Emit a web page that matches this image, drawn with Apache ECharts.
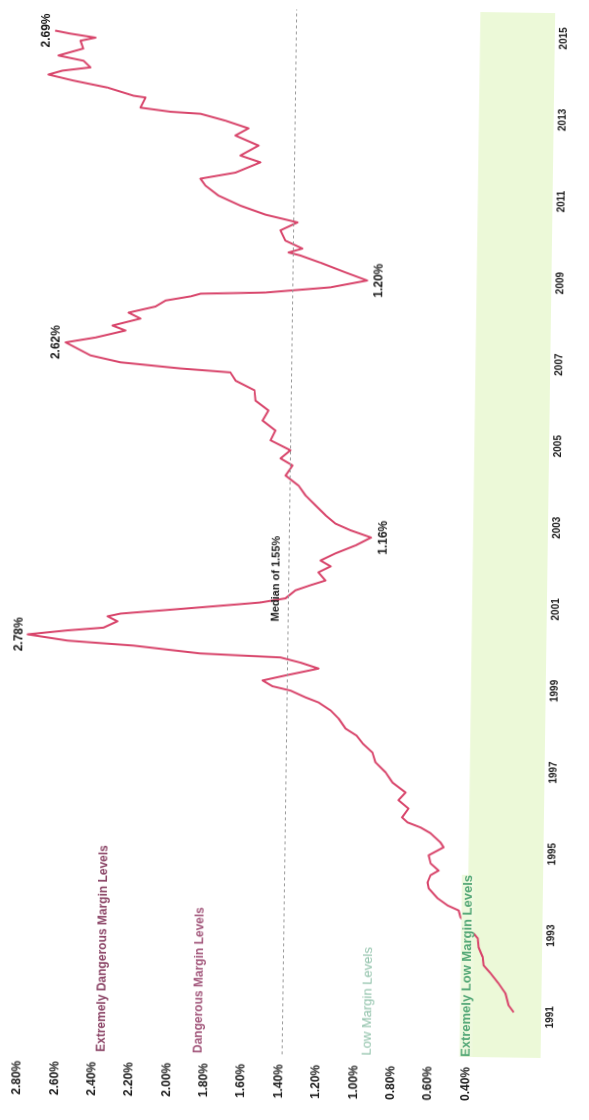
<!DOCTYPE html>
<html>
<head>
<meta charset="utf-8">
<script src="https://cdn.jsdelivr.net/npm/echarts@6/dist/echarts.min.js"></script>
<style>
  html, body { margin: 0; padding: 0; width: 589px; height: 1120px; overflow: hidden; background: #fff; }
  /* chart is drawn landscape, then turned to read bottom-to-top like the scan */
  #chart {
    position: absolute; width: 1120px; height: 589px;
    left: -265.5px; top: 265.5px;
    transform: rotate(-89.2deg); transform-origin: 50% 50%;
  }
</style>
</head>
<body>
<div id="chart"></div>
<script>
// margin debt series (year, percent)
const years = [
  1991.11, 1991.28, 1991.57, 1991.81, 1992.06, 1992.25, 1992.45, 1992.69, 1992.91,
  1993.42, 1993.59, 1993.71, 1993.88, 1994.12, 1994.27, 1994.44, 1994.56, 1994.73, 1994.93,
  1995.13, 1995.25, 1995.47, 1995.61, 1995.73, 1995.85,
  1996.07, 1996.27, 1996.46, 1996.70, 1996.95, 1997.19, 1997.43, 1997.65, 1997.84,
  1998.01, 1998.25, 1998.45, 1998.64, 1998.76, 1998.92, 1999.02, 1999.16, 1999.29, 1999.47,
  1999.61, 1999.73, 1999.80, 1999.97, 2000.07, 2000.21, 2000.32, 2000.40, 2000.56, 2000.68,
  2000.75, 2000.93, 2001.07, 2001.18, 2001.38, 2001.51, 2001.63, 2001.83, 2001.98, 2002.12,
  2002.30, 2002.50, 2002.70, 2002.87, 2003.03, 2003.23, 2003.47, 2003.71, 2003.95, 2004.19,
  2004.44, 2004.61, 2004.81, 2005.05, 2005.29, 2005.53, 2005.78, 2006.02, 2006.27, 2006.50,
  2006.70, 2006.78, 2006.91, 2007.07, 2007.38, 2007.51, 2007.69, 2007.81, 2007.99, 2008.13,
  2008.29, 2008.44, 2008.55, 2008.62, 2008.67, 2008.82, 2009.00, 2009.19, 2009.42, 2009.59,
  2009.66, 2009.76, 2009.95, 2010.20, 2010.40, 2010.58, 2010.79, 2011.03, 2011.27, 2011.44,
  2011.60, 2011.86, 2012.02, 2012.27, 2012.51, 2012.69, 2012.87, 2013.03, 2013.07, 2013.16,
  2013.41, 2013.45, 2013.64, 2013.80, 2013.94, 2014.04, 2014.13, 2014.29, 2014.41, 2014.59,
  2014.78, 2014.86, 2014.95, 2015.02
];
const margin = [
  0.46, 0.485, 0.50, 0.533, 0.572, 0.605, 0.61, 0.63, 0.635,
  0.717, 0.727, 0.78, 0.827, 0.87, 0.875, 0.862, 0.824, 0.862, 0.872,
  0.802, 0.817, 0.864, 0.912, 0.974, 1.0,
  0.97, 1.018, 0.985, 1.047, 1.081, 1.129, 1.144, 1.191, 1.22,
  1.273, 1.306, 1.345, 1.402, 1.464, 1.535, 1.62, 1.668, 1.56, 1.404,
  1.49, 1.585, 1.963, 2.28, 2.592, 2.78, 2.593, 2.422, 2.357, 2.404,
  2.343, 1.966, 1.683, 1.565, 1.518, 1.448, 1.377, 1.411, 1.354, 1.402,
  1.332, 1.238, 1.165, 1.262, 1.334, 1.381, 1.429, 1.477, 1.511, 1.573,
  1.54, 1.598, 1.551, 1.646, 1.623, 1.685, 1.658, 1.72, 1.725, 1.815,
  1.84, 2.076, 2.36, 2.502, 2.62, 2.479, 2.338, 2.40, 2.268, 2.325,
  2.198, 2.151, 2.033, 1.986, 1.68, 1.373, 1.20, 1.303, 1.422, 1.517,
  1.573, 1.508, 1.589, 1.613, 1.533, 1.685, 1.803, 1.908, 1.97, 1.994,
  1.829, 1.712, 1.807, 1.722, 1.832, 1.771, 1.88, 1.998, 2.14, 2.282,
  2.259, 2.316, 2.439, 2.60, 2.719, 2.653, 2.521, 2.554, 2.673, 2.556,
  2.57, 2.499, 2.618, 2.69
];

const yearTicks = [1991, 1993, 1995, 1997, 1999, 2001, 2003, 2005, 2007, 2009, 2011, 2013, 2015];

// annotated turning points
const noteYears = [2002.70, 2007.38, 2009.00, 2015.02, 2000.21];
const noteTexts = ['1.16%', '2.62%', '1.20%', '2.69%', '2.78%'];
const noteAbove = [false, true, false, true, true];

const median = 1.55;
const medianText = 'Median of 1.55%';
const medianTextYear = 2001.66;

// zone captions, placed against the printed percent scale
const levelNames = ['Extremely Dangerous Margin Levels', 'Dangerous Margin Levels', 'Low Margin Levels', 'Extremely Low Margin Levels'];
const levelAt = [2.35, 1.83, 0.93, 0.40];
const lowBand = [0, 0.4];

const font = 'Arial';
const levelStyles = [
  { color: '#8b4466', fontWeight: 'bold', fontSize: 12 },
  { color: '#a3587c', fontWeight: 'bold', fontSize: 12 },
  { color: '#8fc1a9', fontWeight: 'normal', fontSize: 13 },
  { color: '#55a877', fontWeight: 'bold', fontSize: 13, backgroundColor: '#eef9de' }
];

const chart = echarts.init(document.getElementById('chart'), null, { renderer: 'canvas' });

chart.setOption({
  animation: false,
  backgroundColor: '#fff',
  grid: { left: 66, right: 9, top: 24, bottom: 42 },
  xAxis: {
    type: 'value',
    min: 1990,
    max: 2015.62,
    axisLine: { show: false },
    axisTick: { show: false },
    splitLine: { show: false },
    axisLabel: {
      customValues: yearTicks,
      formatter: v => String(Math.round(v)),
      margin: 4,
      fontSize: 10,
      fontWeight: 'bold',
      color: '#1a1a1a',
      fontFamily: font
    }
  },
  yAxis: [
    {
      type: 'value',
      min: 0,
      max: 2.8,
      interval: 0.2,
      axisLine: { show: false },
      axisTick: { show: false },
      splitLine: { show: false },
      axisLabel: {
        margin: 10,
        fontSize: 12,
        fontWeight: 'bold',
        color: '#1a1a1a',
        fontFamily: font,
        formatter: v => (v < 0.39 ? '' : v.toFixed(2) + '%')
      }
    },
    // the line itself sits on its own (hidden) scale, as in the original
    { type: 'value', min: 0.33, max: 2.8, show: false, splitLine: { show: false } }
  ],
  series: [
    {
      type: 'line',
      yAxisIndex: 0,
      data: [],
      z: 1,
      silent: true,
      markArea: {
        silent: true,
        itemStyle: { color: '#ecf9d8' },
        data: [[{ yAxis: lowBand[0] }, { yAxis: lowBand[1] }]]
      }
    },
    {
      type: 'line',
      yAxisIndex: 1,
      data: years.map((y, i) => [y, margin[i]]),
      showSymbol: false,
      z: 2,
      silent: true,
      lineStyle: { color: '#d8456b', width: 2, join: 'round' },
      itemStyle: { color: '#d8456b' },
      markLine: {
        silent: true,
        symbol: 'none',
        label: { show: false },
        lineStyle: { color: '#9a9a9a', type: [3, 3], width: 1 },
        data: [{ yAxis: median }]
      },
      markPoint: {
        symbol: 'circle',
        symbolSize: 0,
        silent: true,
        label: {
          show: true,
          position: 'inside',
          offset: [0, -13],
          formatter: p => p.name,
          fontSize: 11,
          fontWeight: 'bold',
          color: '#1a1a1a',
          fontFamily: font
        },
        data: [{ name: medianText, coord: [medianTextYear, median] }]
      }
    },
    {
      type: 'line',
      yAxisIndex: 0,
      data: [],
      z: 3,
      silent: true,
      markPoint: {
        symbol: 'circle',
        symbolSize: 0,
        silent: true,
        label: { show: true, position: 'right', distance: 0, formatter: p => p.name, fontFamily: font },
        data: levelNames.map((n, i) => ({
          name: n,
          coord: [1990, levelAt[i]],
          label: levelStyles[i]
        }))
      }
    }
  ]
});

// value captions at the turning points, placed through the series' own scales
chart.setOption({
  graphic: noteYears.map((y, k) => {
    const i = years.indexOf(y);
    const p = chart.convertToPixel({ seriesIndex: 1 }, [years[i], margin[i]]);
    return {
      type: 'text',
      x: p[0],
      y: p[1] + (noteAbove[k] ? -9 : 12),
      style: {
        text: noteTexts[k],
        align: 'center',
        verticalAlign: 'middle',
        font: 'bold 12px Arial',
        fill: '#1a1a1a'
      }
    };
  })
});
</script>
</body>
</html>
